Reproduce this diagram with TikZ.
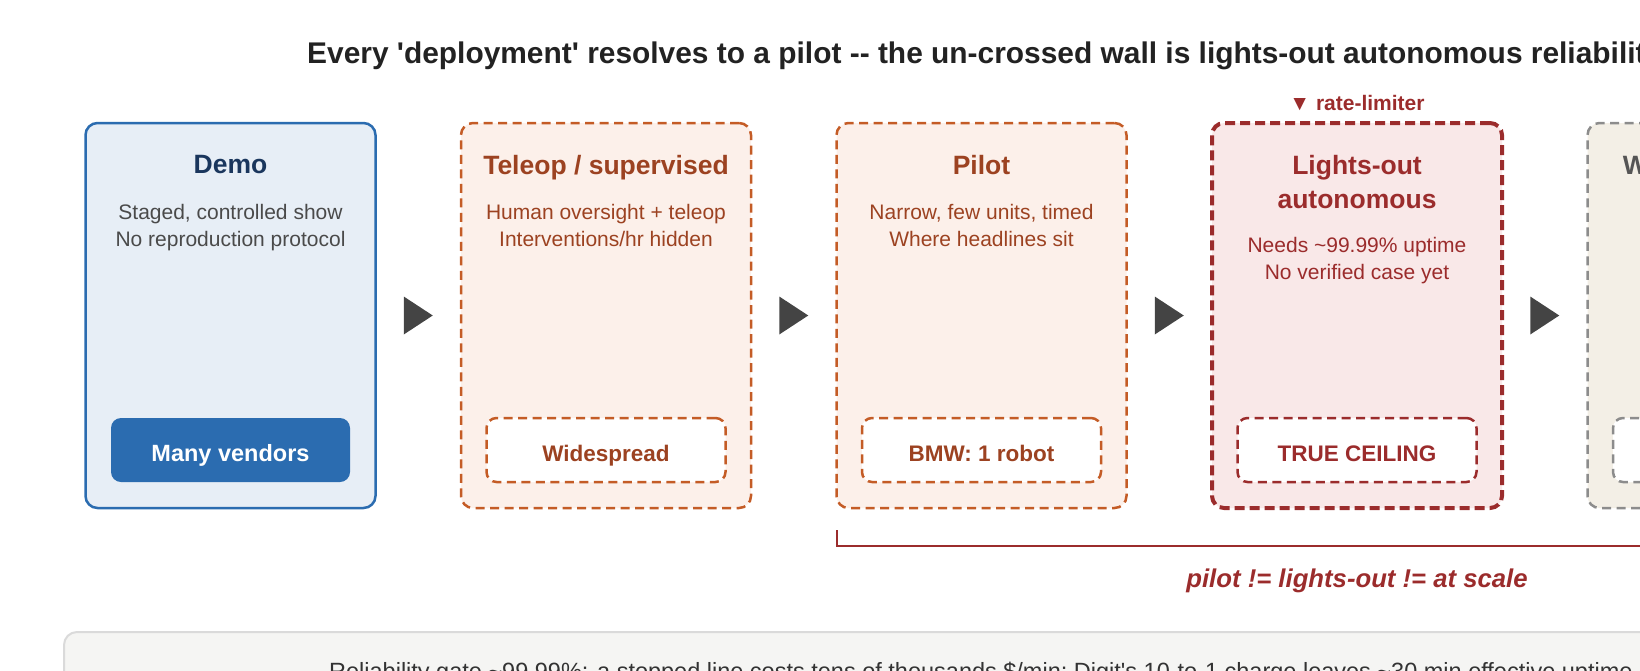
\documentclass[tikz,border=0pt]{standalone}
\usepackage{fontspec}
\setmainfont{Liberation Sans}
\usetikzlibrary{positioning}
\definecolor{demoline}{HTML}{2B6CB0}
\definecolor{demofill}{HTML}{E7EEF6}
\definecolor{demotitle}{HTML}{1A365D}
\definecolor{demotext}{HTML}{4A4A4A}
\definecolor{teleline}{HTML}{C45C26}
\definecolor{telefill}{HTML}{FCF0EA}
\definecolor{teletext}{HTML}{9C4221}
\definecolor{wallline}{HTML}{9B2C2C}
\definecolor{wallfill}{HTML}{F9E8E8}
\definecolor{scaleline}{HTML}{8C8C8C}
\definecolor{scalefill}{HTML}{F3EFE6}
\definecolor{scaletext}{HTML}{555555}
\definecolor{arrowgray}{HTML}{444444}
\definecolor{headgray}{HTML}{222222}
\definecolor{notefill}{HTML}{F5F5F3}
\definecolor{noteline}{HTML}{DADADA}
\definecolor{notetext}{HTML}{333333}

\begin{document}
\begin{tikzpicture}[x=1pt,y=1pt]
		\tikzstyle{stage}=[rectangle, rounded corners=12pt, minimum width=290pt, minimum height=385pt, inner sep=0pt, outer sep=0pt, line width=2.5pt]
		\tikzstyle{stagetitle}=[inner sep=0pt, align=center, font=\fontsize{26.5}{34}\selectfont\bfseries]
		\tikzstyle{stagebody}=[inner sep=0pt, align=center, font=\fontsize{21}{27}\selectfont]
		\tikzstyle{tag}=[rectangle, rounded corners=10pt, minimum width=239pt, minimum height=64pt, inner sep=0pt, outer sep=0pt, line width=2.5pt, text height=22pt, text depth=0pt, font=\fontsize{22.5}{27}\selectfont\bfseries]
		\tikzstyle{dashes}=[dash pattern=on 9pt off 5.5pt]
		\useasboundingbox (0,0) rectangle (1640,-670);
		\node[anchor=base west, inner sep=0pt, text=headgray, font=\fontsize{29.9}{35}\selectfont\bfseries] (Title) at (307,-63) {Every \textquotesingle deployment\textquotesingle{} resolves to a pilot -{}- the un-crossed wall is lights-out autonomous reliability};
		\node[stage, draw=demoline, fill=demofill] (Demo) at (230.5,-315.5) {};
		\node[stage, draw=teleline, fill=telefill, dashes, right=85.5pt of Demo] (Teleop) {};
		\node[stage, draw=teleline, fill=telefill, dashes, right=85.5pt of Teleop] (Pilot) {};
		\node[stage, draw=wallline, fill=wallfill, line width=4pt, dash pattern=on 10pt off 5pt, right=85.5pt of Pilot] (Lights) {};
		\node[stage, draw=scaleline, fill=scalefill, dashes, right=85.5pt of Lights] (Scale) {};
		\node[stagetitle, text=demotitle, below=32pt of Demo.north] (DemoTitle) {Demo};
		\node[stagebody, text=demotext, below=81pt of Demo.north] (DemoBody) {Staged, controlled show\\No reproduction protocol};
		\node[tag, fill=demoline, text=white, font=\fontsize{23.5}{27}\selectfont\bfseries, above=26pt of Demo.south] (DemoTag) {Many vendors};
		\node[stagetitle, text=teletext, below=32pt of Teleop.north] (TeleopTitle) {Teleop / supervised};
		\node[stagebody, text=teletext, below=81pt of Teleop.north] (TeleopBody) {Human oversight + teleop\\Interventions/hr hidden};
		\node[tag, draw=teleline, fill=white, dashes, text=teletext, above=26pt of Teleop.south] (TeleopTag) {Widespread};
		\node[stagetitle, text=teletext, below=32pt of Pilot.north] (PilotTitle) {Pilot};
		\node[stagebody, text=teletext, below=81pt of Pilot.north] (PilotBody) {Narrow, few units, timed\\Where headlines sit};
		\node[tag, draw=teleline, fill=white, dashes, text=teletext, above=26pt of Pilot.south] (PilotTag) {BMW: 1 robot};
		\node[stagetitle, text=wallline, below=32pt of Lights.north] (LightsTitle) {Lights-out\\autonomous};
		\node[stagebody, text=wallline, below=114pt of Lights.north] (LightsBody) {Needs \textasciitilde 99.99\% uptime\\No verified case yet};
		\node[tag, draw=wallline, fill=white, dashes, text=wallline, above=26pt of Lights.south] (LightsTag) {TRUE CEILING};
		\node[above=12pt of Lights.north, inner sep=0pt, text=wallline, font=\fontsize{21}{24}\selectfont\bfseries] (Limiter) {▼ rate-limiter};
		\node[stagetitle, text=scaletext, below=32pt of Scale.north] (ScaleTitle) {Wide deployment};
		\node[tag, draw=scaleline, fill=white, dashes, above=26pt of Scale.south] (ScaleTag) {};
		\foreach \a/\b in {Demo/Teleop, Teleop/Pilot, Pilot/Lights, Lights/Scale}
		{
			\path (\a.east) -- (\b.west) coordinate[midway] (Mid);
			\fill[arrowgray, shift={(Mid)}] (-14.5,19) -- (14.5,0) -- (-14.5,-19) -- cycle;
		}
		\coordinate[below=22pt of Pilot.south west] (BracketTop);
		\coordinate[below=38pt of Pilot.south west] (BracketLeft);
		\coordinate[below=38pt of Scale.south east] (BracketRight);
		\draw[wallline, line width=2pt] (BracketTop) -- (BracketLeft) -- (BracketRight)
			node[midway, below=22pt, inner sep=0pt, text=wallline, font=\fontsize{25.7}{30}\selectfont\bfseries\itshape] (BracketLabel) {pilot != lights-out != at scale};
		\draw[fill=notefill, draw=noteline, line width=2pt, rounded corners=13pt] (64,-632) rectangle (1898,-800);
		\node[anchor=base west, inner sep=0pt, text=notetext, font=\fontsize{23.5}{28}\selectfont] (Note) at (329,-679) {Reliability gate \textasciitilde 99.99\%: a stopped line costs tens of thousands \$/min; Digit\textquotesingle s 10-to-1 charge leaves \textasciitilde 30 min effective uptime};
\end{tikzpicture}
\end{document}
